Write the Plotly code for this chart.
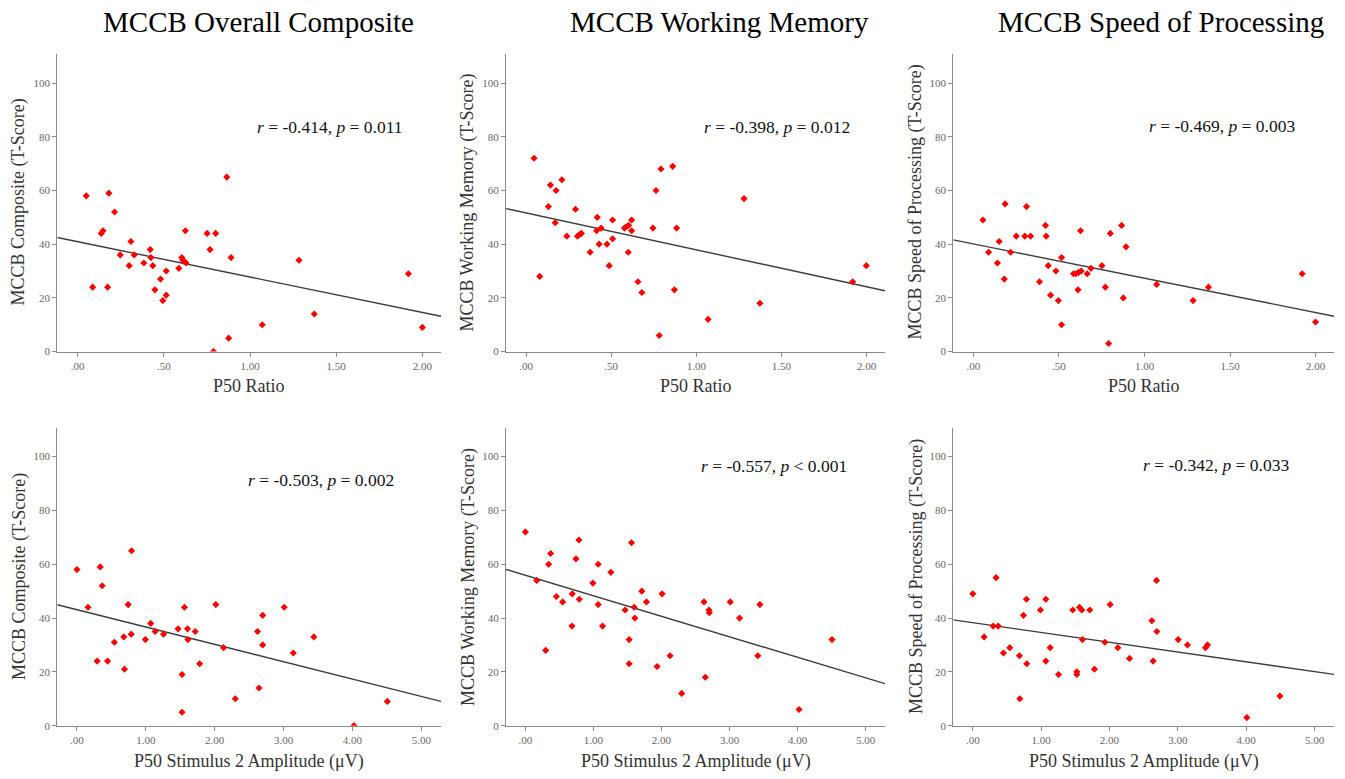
import numpy as np
import plotly.graph_objects as go

# ---------------- data ----------------
# Top row: x = P50 Ratio
ratio_comp = [0.050, 0.087, 0.137, 0.147, 0.174, 0.181, 0.214, 0.247, 0.299, 0.309,
              0.328, 0.384, 0.421, 0.425, 0.436, 0.448, 0.481, 0.494, 0.514, 0.514,
              0.587, 0.604, 0.610, 0.618, 0.625, 0.629, 0.751, 0.768, 0.788, 0.801,
              0.865, 0.876, 0.890, 1.071, 1.284, 1.373, 1.919, 2.000]
comp_top = [58, 24, 44, 45, 24, 59, 52, 36, 32, 41,
            36, 33, 38, 35, 32, 23, 27, 19, 30, 21,
            31, 35, 34, 33.6, 45, 33, 44, 38, 0, 44,
            65, 5, 35, 10, 34, 14, 29, 9]

ratio_wm = [0.047, 0.080, 0.131, 0.143, 0.171, 0.176, 0.210, 0.239, 0.290, 0.302,
            0.314, 0.325, 0.376, 0.414, 0.418, 0.429, 0.441, 0.475, 0.488, 0.508,
            0.508, 0.578, 0.588, 0.602, 0.600, 0.620, 0.620, 0.657, 0.680, 0.745,
            0.763, 0.782, 0.792, 0.861, 0.871, 0.884, 1.069, 1.280, 1.373, 1.918, 1.998]
wm_top = [72, 28, 54, 62, 48, 60, 64, 43, 53, 43,
          43.6, 44, 37, 45, 50, 40, 46, 40, 32, 42,
          49, 46, 46.5, 47, 37, 49, 45, 26, 22, 46,
          60, 6, 68, 69, 23, 46, 12, 57, 18, 26, 32]

ratio_sp = [0.055, 0.088, 0.140, 0.150, 0.180, 0.185, 0.217, 0.250, 0.300, 0.310,
            0.334, 0.386, 0.421, 0.425, 0.437, 0.451, 0.482, 0.496, 0.515, 0.515,
            0.585, 0.599, 0.611, 0.615, 0.626, 0.630, 0.665, 0.687, 0.751, 0.771,
            0.790, 0.800, 0.866, 0.876, 0.892, 1.071, 1.284, 1.374, 1.922, 2.000]
sp_top = [49, 37, 33, 41, 27, 55, 37, 43, 43, 54,
          43, 26, 47, 43, 32, 21, 30, 19, 35, 10,
          29, 29, 23, 29.5, 45, 30, 29, 31, 32, 24,
          3, 44, 47, 20, 39, 25, 19, 24, 29, 11]

# Bottom row: x = P50 Stimulus 2 Amplitude (uV)
amp_comp = [0.000, 0.161, 0.294, 0.338, 0.367, 0.445, 0.543, 0.680, 0.690, 0.744,
            0.788, 0.793, 0.993, 1.071, 1.135, 1.257, 1.468, 1.526, 1.526, 1.561,
            1.605, 1.610, 1.717, 1.781, 2.016, 2.128, 2.299, 2.622, 2.642, 2.696,
            2.696, 3.009, 3.141, 3.439, 4.022, 4.506]
comp_bot = [58, 44, 24, 59, 52, 24, 31, 33, 21, 45,
            34, 65, 32, 38, 35, 34, 36, 19, 5, 44,
            36, 32, 35, 23, 45, 29, 10, 35, 14, 41,
            30, 44, 27, 33, 0, 9]

amp_wm = [0.000, 0.166, 0.298, 0.342, 0.371, 0.455, 0.547, 0.684, 0.689, 0.743,
          0.787, 0.792, 0.992, 1.070, 1.070, 1.134, 1.256, 1.466, 1.525, 1.525,
          1.559, 1.598, 1.608, 1.711, 1.779, 1.935, 2.009, 2.126, 2.297, 2.625,
          2.644, 2.698, 2.703, 3.011, 3.148, 3.416, 3.446, 4.022, 4.506]
wm_bot = [72, 54, 28, 60, 64, 48, 46, 37, 49, 62,
          69, 47, 53, 60, 45, 37, 57, 43, 32, 23,
          68, 44, 40, 50, 46, 22, 49, 26, 12, 46,
          18, 43, 42, 46, 40, 26, 45, 6, 32]

amp_sp = [0.000, 0.166, 0.298, 0.341, 0.371, 0.449, 0.541, 0.683, 0.688, 0.741,
          0.785, 0.790, 0.990, 1.068, 1.068, 1.132, 1.254, 1.463, 1.522, 1.522,
          1.561, 1.595, 1.605, 1.712, 1.780, 1.932, 2.010, 2.122, 2.293, 2.620,
          2.639, 2.688, 2.693, 3.005, 3.141, 3.405, 3.434, 4.010, 4.493]
sp_bot = [49, 33, 37, 55, 37, 27, 29, 26, 10, 41,
          47, 23, 43, 47, 24, 29, 19, 43, 20, 19,
          44, 43, 32, 43, 21, 31, 45, 29, 25, 39,
          24, 54, 35, 32, 30, 29, 30, 3, 11]

col_titles = ["MCCB Overall Composite", "MCCB Working Memory", "MCCB Speed of Processing"]
y_titles = ["MCCB Composite (T-Score)", "MCCB Working Memory (T-Score)",
            "MCCB Speed of Processing (T-Score)"]
x_titles = ["P50 Ratio", "P50 Stimulus 2 Amplitude (\u03bcV)"]
stats = ["<i>r</i> = -0.414, <i>p</i> = 0.011",
         "<i>r</i> = -0.398, <i>p</i> = 0.012",
         "<i>r</i> = -0.469, <i>p</i> = 0.003",
         "<i>r</i> = -0.503, <i>p</i> = 0.002",
         "<i>r</i> = -0.557, <i>p</i> &lt; 0.001",
         "<i>r</i> = -0.342, <i>p</i> = 0.033"]

top_xticks = [0, 0.5, 1.0, 1.5, 2.0]
top_xtext = [".00", ".50", "1.00", "1.50", "2.00"]
bot_xticks = [0, 1, 2, 3, 4, 5]
bot_xtext = [".00", "1.00", "2.00", "3.00", "4.00", "5.00"]
y_ticks = [0, 20, 40, 60, 80, 100]

panels = [(ratio_comp, comp_top), (ratio_wm, wm_top), (ratio_sp, sp_top),
          (amp_comp, comp_bot), (amp_wm, wm_bot), (amp_sp, sp_bot)]

# ---------------- layout geometry ----------------
W, H = 1345, 779
col_px = [(57.3, 441.0), (506.0, 885.0), (953.3, 1334.0)]
row_px = [(54.0, 354.3), (431.7, 731.3)]  # top, bottom in px from top
xranges = [[-0.118, 2.108], [-0.285, 5.285]]
yranges = [[0, 111], [0, 110.5]]

stat_pos = [(330, 128), (777, 128), (1222, 127), (321, 484), (774, 470), (1216, 469)]

SERIF = "Liberation Serif, Times New Roman, serif"
AX_COL = "#8a8a8a"
TICK_FONT = dict(family=SERIF, size=11, color="#666666")

fig = go.Figure()
layout = dict(width=W, height=H, margin=dict(l=0, r=0, t=0, b=0),
              paper_bgcolor="white", plot_bgcolor="white", showlegend=False)
annotations = []

for i, (xs, ys) in enumerate(panels):
    r, c = divmod(i, 3)
    k = i + 1
    xa = "x" if k == 1 else f"x{k}"
    ya = "y" if k == 1 else f"y{k}"
    xs_a = np.array(xs, dtype=float)
    ys_a = np.array(ys, dtype=float)
    # fit line over the full axis range
    slope, intercept = np.polyfit(xs_a, ys_a, 1)
    xl = np.array(xranges[r])
    fig.add_trace(go.Scatter(x=xl, y=intercept + slope * xl, mode="lines",
                             line=dict(color="#3c3c3c", width=1.4),
                             xaxis=xa, yaxis=ya, hoverinfo="skip"))
    fig.add_trace(go.Scatter(x=xs_a, y=ys_a, mode="markers",
                             marker=dict(symbol="diamond", size=5.5, color="#ff0000",
                                         line=dict(width=0)),
                             xaxis=xa, yaxis=ya))
    x0, x1 = col_px[c]
    t0, t1 = row_px[r]
    xdom = [x0 / W, x1 / W]
    ydom = [1 - t1 / H, 1 - t0 / H]
    xkey = "xaxis" if k == 1 else f"xaxis{k}"
    ykey = "yaxis" if k == 1 else f"yaxis{k}"
    layout[xkey] = dict(domain=xdom, range=xranges[r], anchor=ya,
                        tickvals=top_xticks if r == 0 else bot_xticks,
                        ticktext=top_xtext if r == 0 else bot_xtext,
                        showline=True, linecolor=AX_COL, linewidth=1,
                        ticks="outside", ticklen=4, tickcolor=AX_COL,
                        showgrid=False, zeroline=False, tickfont=TICK_FONT)
    layout[ykey] = dict(domain=ydom, range=yranges[r], anchor=xa,
                        tickvals=y_ticks, showline=True, linecolor=AX_COL, linewidth=1,
                        ticks="outside", ticklen=4, tickcolor=AX_COL,
                        showgrid=False, zeroline=False, tickfont=TICK_FONT)
    # y axis title
    annotations.append(dict(text=y_titles[c], textangle=-90, showarrow=False,
                            xref="paper", yref="paper",
                            x=[19, 468, 916][c] / W, y=1 - (t0 + t1) / 2 / H,
                            xanchor="center", yanchor="middle",
                            font=dict(family=SERIF, size=18, color="#333333")))
    # x axis title
    annotations.append(dict(text=x_titles[r], showarrow=False,
                            xref="paper", yref="paper",
                            x=[249, 696, 1144][c] / W, y=1 - [389, 767][r] / H,
                            xanchor="center", yanchor="middle",
                            font=dict(family=SERIF, size=18, color="#333333")))
    # statistics text
    sx, sy = stat_pos[i]
    annotations.append(dict(text=stats[i], showarrow=False, xref="paper", yref="paper",
                            x=sx / W, y=1 - sy / H, xanchor="center", yanchor="middle",
                            font=dict(family=SERIF, size=17.5, color="#111111")))

for c, t in enumerate(col_titles):
    annotations.append(dict(text=t, showarrow=False, xref="paper", yref="paper",
                            x=[258, 720, 1161][c] / W, y=1 - 22 / H,
                            xanchor="center", yanchor="middle",
                            font=dict(family=SERIF, size=29, color="#000000")))

layout["annotations"] = annotations
fig.update_layout(**layout)

fig.write_html("out.html", config={"displayModeBar": False},
               post_script="document.body.style.margin='0';document.body.style.overflow='hidden';")
